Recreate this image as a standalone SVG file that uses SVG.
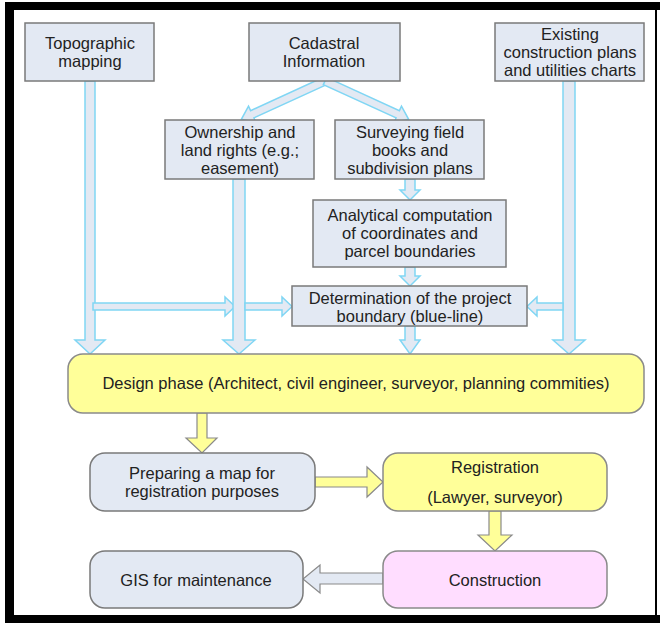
<svg xmlns="http://www.w3.org/2000/svg" width="660" height="623" viewBox="0 0 660 623">
<style>
.box{fill:#e3e9f3;stroke:#7a7a7a;stroke-width:1.5}
.yel{fill:#ffff99;stroke:#8a8a8a;stroke-width:1.5}
.pink{fill:#ffddff;stroke:#8a8a8a;stroke-width:1.5}
.ba{fill:#e3e9f3;stroke:#80d6f4;stroke-width:1.5;stroke-linejoin:miter}
.ya{fill:#ffff99;stroke:#8a8a8a;stroke-width:1.2}
.ga{fill:#e3e9f3;stroke:#8a8a8a;stroke-width:1.2}
text{font-family:"Liberation Sans",Arial,sans-serif;font-size:16.5px;fill:#222;text-anchor:middle;dominant-baseline:central}
</style>
<rect x="0" y="0" width="660" height="623" fill="#fff"/>
<rect x="5" y="2" width="655" height="621" fill="#000"/>
<rect x="14" y="10" width="641" height="605" fill="#fff"/>
<rect x="657" y="10" width="3" height="605" fill="#fff"/>

<g id="connectors">
<polygon class="ba" points="85,81 95,81 95,340 105,340 90,354 75,340 85,340"/>
<polygon class="ba" points="93,303 225,303 225,297 235,306.5 225,316 225,310 93,310"/>
<polygon class="ba" points="233,179 245,179 245,340 255,340 239,354 223,340 233,340"/>
<polygon class="ba" points="245,303 282,303 282,297 292,306.5 282,316 282,310 245,310"/>
<polygon class="ba" points="563,81 575,81 575,340 585,340 569,354 553,340 563,340"/>
<polygon class="ba" points="563,303 537,303 537,297 527,306.5 537,316 537,310 563,310"/>
<polygon class="ba" transform="translate(325,81) rotate(155.4)" points="0,-4 80,-4 80,-9 92,0 80,9 80,4 0,4"/>
<polygon class="ba" transform="translate(325,81) rotate(24.6)" points="0,-4 80,-4 80,-9 92,0 80,9 80,4 0,4"/>
<polygon class="ba" points="405,179 415,179 415,190 420,190 410,200 400,190 405,190"/>
<polygon class="ba" points="405,267 415,267 415,276 420,276 410,286 400,276 405,276"/>
<polygon class="ba" points="405,326 415,326 415,340 420,340 410,354 400,340 405,340"/>
<polygon class="ya" points="197,413 207,413 207,438 217,438 202,453 186,438 197,438"/>
<polygon class="ya" points="315,477 367,477 367,467 383,482 367,497 367,487 315,487"/>
<polygon class="ya" points="489,511 501,511 501,535 512,535 495,551 478,535 489,535"/>
<polygon class="ga" points="383,573 320,573 320,565 303,579 320,593 320,584 383,584"/>
</g>

<g id="topographic">
<rect class="box" x="25" y="23" width="129" height="58"/>
<text x="90" y="43">Topographic</text>
<text x="90" y="61">mapping</text>
</g>
<g id="cadastral">
<rect class="box" x="249" y="23" width="151" height="58"/>
<text x="324" y="43">Cadastral</text>
<text x="324" y="61">Information</text>
</g>
<g id="existing">
<rect class="box" x="495" y="23" width="149" height="58"/>
<text x="570" y="34">Existing</text>
<text x="570" y="52">construction plans</text>
<text x="570" y="70">and utilities charts</text>
</g>
<g id="ownership">
<rect class="box" x="165" y="120" width="149" height="59"/>
<text x="240" y="132">Ownership and</text>
<text x="240" y="150">land rights (e.g.;</text>
<text x="240" y="168">easement)</text>
</g>
<g id="surveying">
<rect class="box" x="335" y="120" width="149" height="59"/>
<text x="410" y="132">Surveying field</text>
<text x="410" y="150">books and</text>
<text x="410" y="168">subdivision plans</text>
</g>
<g id="analytical">
<rect class="box" x="313" y="200" width="193" height="67"/>
<text x="410" y="215">Analytical computation</text>
<text x="410" y="233">of coordinates and</text>
<text x="410" y="251">parcel boundaries</text>
</g>
<g id="determination">
<rect class="box" x="292" y="286" width="235" height="40"/>
<text x="410" y="298">Determination of the project</text>
<text x="410" y="316">boundary (blue-line)</text>
</g>
<g id="design">
<rect class="yel" x="68" y="354" width="576" height="59" rx="15"/>
<text x="356" y="383">Design phase (Architect, civil engineer, surveyor, planning commities)</text>
</g>
<g id="preparing">
<rect class="box" x="90" y="453" width="225" height="58" rx="15"/>
<text x="202" y="473">Preparing a map for</text>
<text x="202" y="491">registration purposes</text>
</g>
<g id="registration">
<rect class="yel" x="383" y="453" width="224" height="58" rx="15"/>
<text x="495" y="467">Registration</text>
<text x="495" y="497">(Lawyer, surveyor)</text>
</g>
<g id="gis">
<rect class="box" x="90" y="551" width="213" height="57" rx="15"/>
<text x="196" y="580">GIS for maintenance</text>
</g>
<g id="construction">
<rect class="pink" x="383" y="551" width="224" height="57" rx="15"/>
<text x="495" y="580">Construction</text>
</g>
</svg>
